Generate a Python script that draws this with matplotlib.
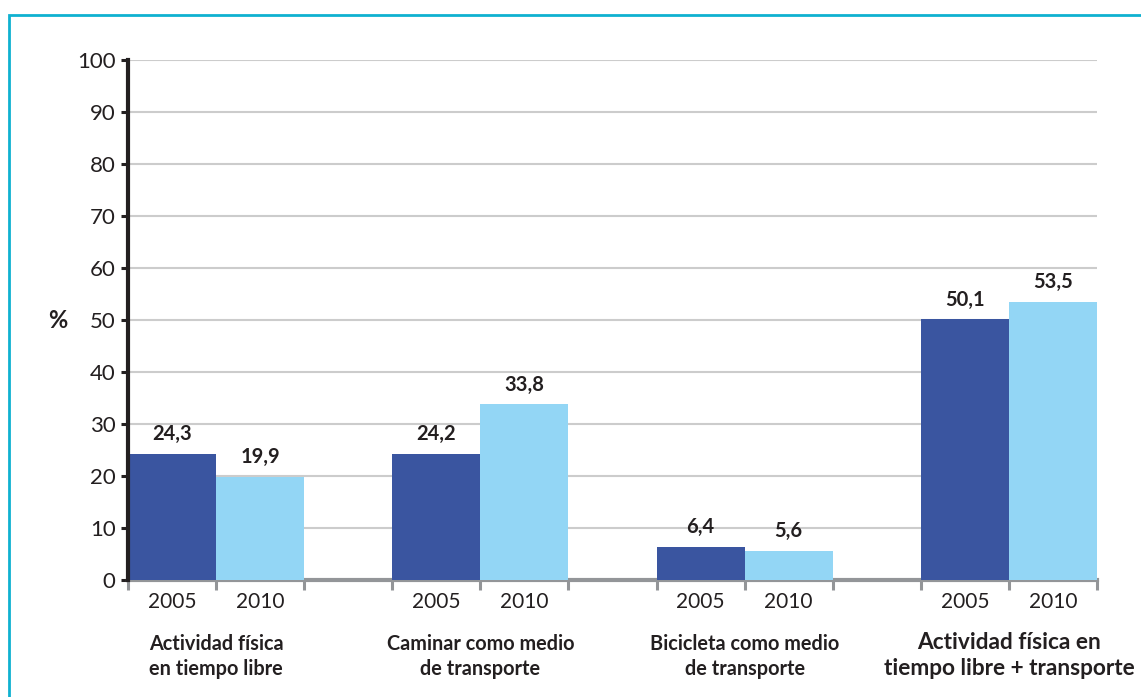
import matplotlib
matplotlib.use("Agg")
import matplotlib.pyplot as plt
from matplotlib.patches import Rectangle
from matplotlib.transforms import blended_transform_factory
import numpy as np

plt.rcParams['font.family'] = ['Lato', 'DejaVu Sans']

categories = ["Actividad física\nen tiempo libre",
              "Caminar como medio\nde transporte",
              "Bicicleta como medio\nde transporte",
              "Actividad física en\ntiempo libre + transporte"]
years = ["2005", "2010"]
values_2005 = [24.3, 24.2, 6.4, 50.1]
values_2010 = [19.9, 33.8, 5.6, 53.5]
yticks = list(range(0, 101, 10))

dark = "#3A55A0"
light = "#93D6F5"
text_col = "#231F20"

fig = plt.figure(figsize=(11.41, 6.97), dpi=100)
ax = fig.add_axes([128 / 1141, 117 / 697, 969 / 1141, 520 / 697])

# outer frame (left and top edges visible)
fig.patches.append(Rectangle((9 / 1141, -0.05), 1.2, 1 - 15 / 697 + 0.05,
                             transform=fig.transFigure, fill=False,
                             edgecolor="#0FB1D0", linewidth=2, zorder=0))

w = 1 / 3
x = np.arange(len(categories))
b1 = ax.bar(x - w / 2, values_2005, width=w, color=dark, zorder=3)
b2 = ax.bar(x + w / 2, values_2010, width=w, color=light, zorder=3)

for bars, vals in ((b1, values_2005), (b2, values_2010)):
    for rect, v in zip(bars, vals):
        ax.annotate(f"{v:.1f}".replace(".", ","),
                    (rect.get_x() + rect.get_width() / 2, v),
                    xytext=(0, 7), textcoords="offset points",
                    ha="center", va="bottom", fontsize=14.5,
                    fontweight="bold", color=text_col)

ax.set_xlim(-w, len(categories) - 1 + w)
ax.set_ylim(0, 100)
ax.set_yticks(yticks)
ax.tick_params(axis="y", labelsize=16, length=5, width=2.2, color=text_col,
               labelcolor=text_col, pad=4)
ax.grid(axis="y", color="#CCCCCC", linewidth=1.5, zorder=0)
ax.set_axisbelow(True)

# year labels at bar centres, tick marks at bar edges
centers = np.concatenate([x - w / 2, x + w / 2])
ax.set_xticks(np.sort(centers))
ax.set_xticklabels(years * len(categories))
edges = np.concatenate([x - w, x, x + w])
ax.set_xticks(np.sort(edges), minor=True)
ax.tick_params(axis="x", which="major", length=0, labelsize=15,
               labelcolor=text_col, pad=9)
ax.tick_params(axis="x", which="minor", length=7, width=2.2, color="#939598")

for s in ("top", "right"):
    ax.spines[s].set_visible(False)
ax.spines["left"].set_color(text_col)
ax.spines["left"].set_linewidth(3)
ax.spines["bottom"].set_color("#939598")
ax.spines["bottom"].set_linewidth(3)
ax.spines["left"].set_zorder(4)

trans = blended_transform_factory(ax.transData, ax.transAxes)
for i, c in enumerate(categories):
    big = i == len(categories) - 1
    ax.text(x[i], -0.104 if not big else -0.100, c, transform=trans,
            ha="center", va="top", fontsize=16.3 if big else 14.3,
            fontweight="bold", color=text_col, linespacing=1.3)

ax.text(-70 / 969, 0.5, "%", transform=ax.transAxes, ha="center",
        va="center", fontsize=17, fontweight="bold", color=text_col)

fig.savefig("out.png", dpi=100)
